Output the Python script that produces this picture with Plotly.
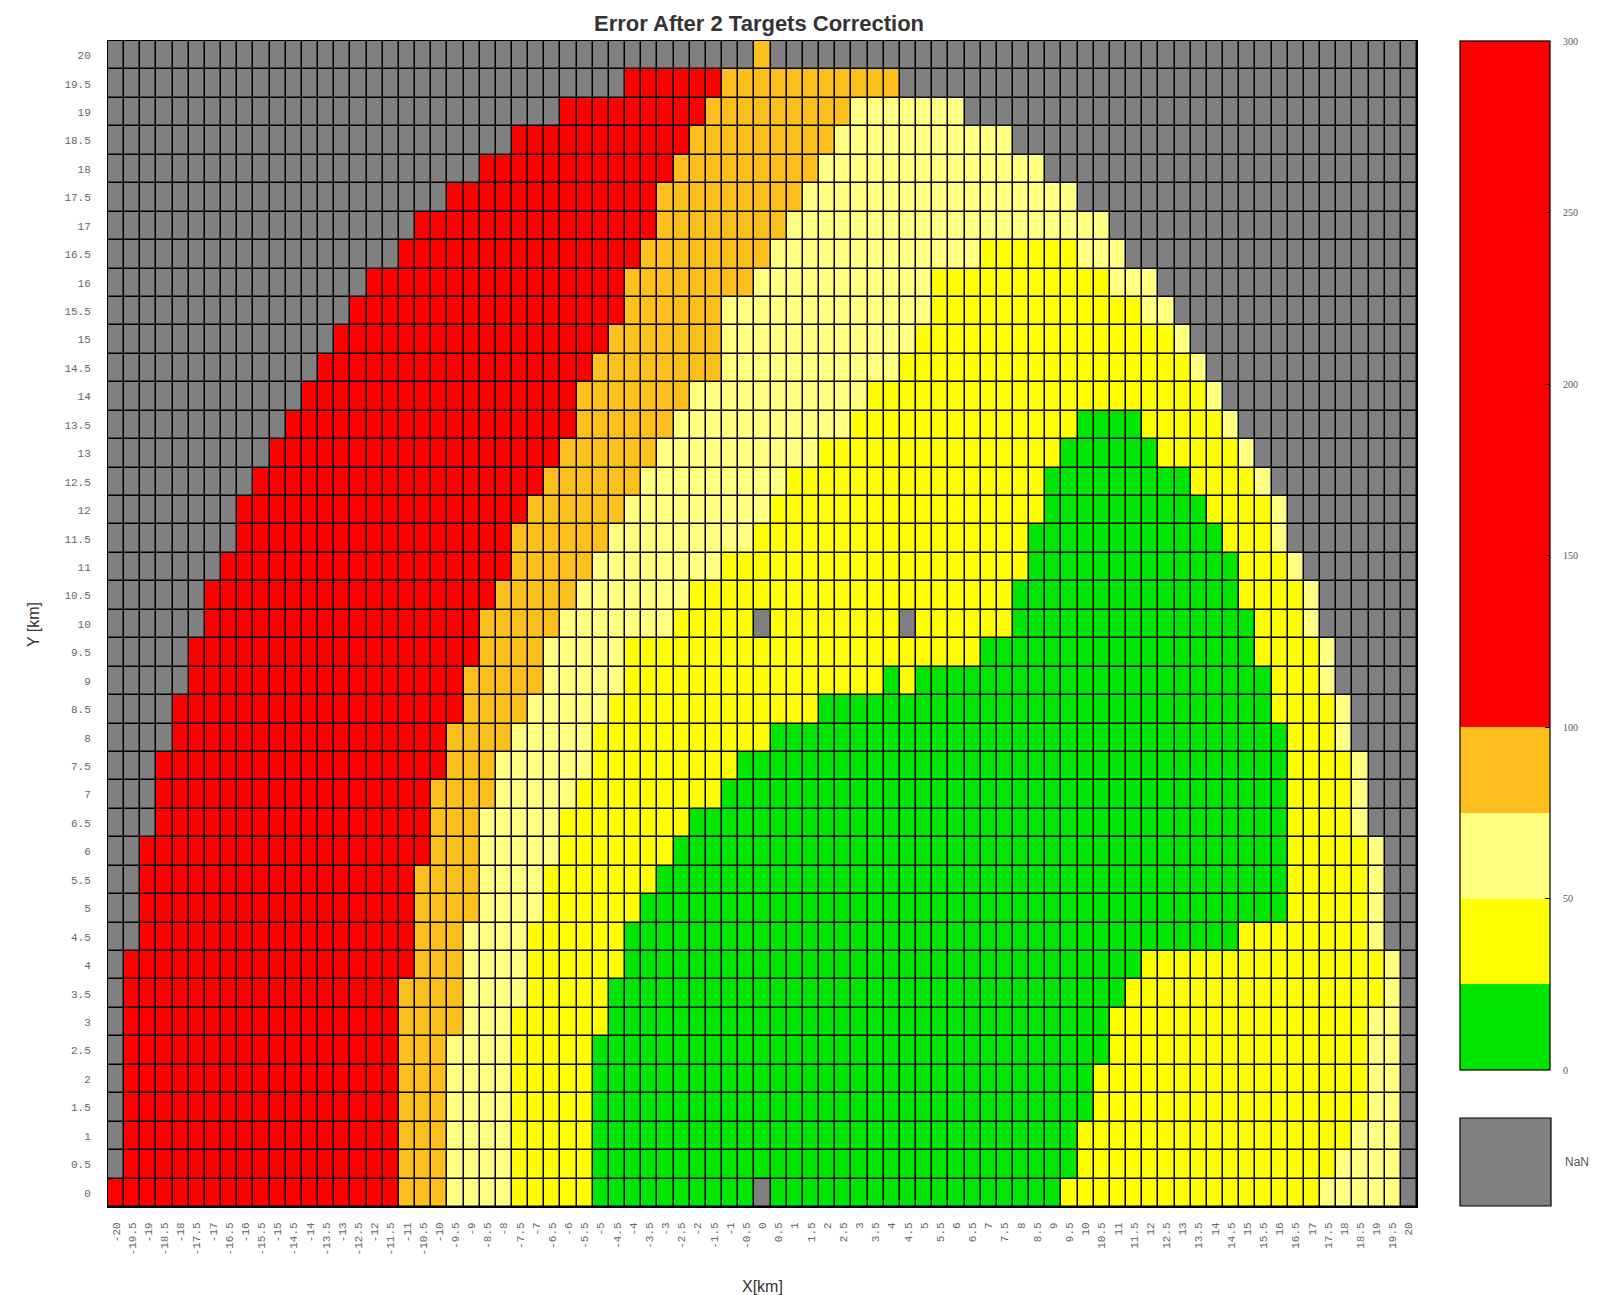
import plotly.graph_objects as go

# ---------------- data ----------------
x_vals = [-20 + 0.5 * i for i in range(81)]
y_vals = [0.5 * j for j in range(41)]
x_labels = [("%g" % v) for v in x_vals]
y_labels = [("%g" % v) for v in y_vals]

# representative error value for each class (NaN = no coverage)
class_values = {"G": 12.5, "Y": 37.5, "L": 62.5, "O": 87.5, "R": 200.0, "N": None}

# each row (y in km) as run-lengths of classes along x = -20 ... 20
rows = {
    20.0: "N40 O1 N40",
    19.5: "N32 R6 O11 N32",
    19.0: "N28 R9 O9 L7 N28",
    18.5: "N25 R11 O9 L11 N25",
    18.0: "N23 R12 O9 L14 N23",
    17.5: "N21 R13 O9 L17 N21",
    17.0: "N19 R15 O8 L20 N19",
    16.5: "N18 R15 O8 L13 Y6 L3 N18",
    16.0: "N16 R16 O8 L11 Y11 L3 N16",
    15.5: "N15 R17 O6 L13 Y13 L2 N15",
    15.0: "N14 R17 O7 L12 Y16 L1 N14",
    14.5: "N13 R17 O8 L11 Y18 L1 N13",
    14.0: "N12 R17 O7 L11 Y21 L1 N12",
    13.5: "N11 R18 O6 L11 Y14 G4 Y5 L1 N11",
    13.0: "N10 R18 O6 L10 Y15 G6 Y5 L1 N10",
    12.5: "N9 R18 O6 L9 Y16 G9 Y4 L1 N9",
    12.0: "N8 R18 O6 L9 Y17 G10 Y4 L1 N8",
    11.5: "N8 R17 O6 L9 Y17 G12 Y3 L1 N8",
    11.0: "N7 R18 O5 L8 Y19 G13 Y3 L1 N7",
    10.5: "N6 R18 O5 L7 Y20 G14 Y4 L1 N6",
    10.0: "N6 R17 O5 L7 Y5 N1 Y8 N1 Y6 G15 Y3 L1 N6",
    9.5: "N5 R18 O4 L5 Y22 G17 Y4 L1 N5",
    9.0: "N5 R17 O5 L5 Y16 G1 Y1 G22 Y3 L1 N5",
    8.5: "N4 R18 O4 L5 Y13 G28 Y4 L1 N4",
    8.0: "N4 R17 O4 L5 Y11 G32 Y3 L1 N4",
    7.5: "N3 R18 O3 L6 Y9 G34 Y4 L1 N3",
    7.0: "N3 R17 O4 L5 Y9 G35 Y4 L1 N3",
    6.5: "N3 R17 O3 L5 Y8 G37 Y4 L1 N3",
    6.0: "N2 R18 O3 L5 Y7 G38 Y5 L1 N2",
    5.5: "N2 R17 O4 L4 Y7 G39 Y5 L1 N2",
    5.0: "N2 R17 O4 L4 Y6 G40 Y5 L1 N2",
    4.5: "N2 R17 O3 L4 Y6 G38 Y8 L1 N2",
    4.0: "N1 R18 O3 L4 Y6 G32 Y15 L1 N1",
    3.5: "N1 R17 O4 L4 Y5 G32 Y16 L1 N1",
    3.0: "N1 R17 O4 L3 Y6 G31 Y16 L2 N1",
    2.5: "N1 R17 O3 L4 Y5 G32 Y16 L2 N1",
    2.0: "N1 R17 O3 L4 Y5 G31 Y17 L2 N1",
    1.5: "N1 R17 O3 L4 Y5 G31 Y17 L2 N1",
    1.0: "N1 R17 O3 L4 Y5 G30 Y17 L3 N1",
    0.5: "N1 R17 O3 L4 Y5 G30 Y16 L4 N1",
    0.0: "R18 O3 L4 Y5 G10 N1 G18 Y16 L5 N1",
}

cb_ticks = [0, 50, 100, 150, 200, 250, 300]

# ---------------- build matrices ----------------
def expand(spec):
    out = []
    for tok in spec.split():
        out += [tok[0]] * int(tok[1:])
    assert len(out) == 81, (spec, len(out))
    return out

z = []
z_nan = []
for y in y_vals:
    cls = expand(rows[y])
    z.append([class_values[c] for c in cls])
    z_nan.append([1 if c == "N" else None for c in cls])

GREEN, YEL, LYEL, ORNG, RED, GRAY = "#00e600", "#ffff00", "#ffff80", "#fdbf1e", "#ff0000", "#808080"
zmax = 300.0
cscale = [
    [0, GREEN], [25 / zmax, GREEN],
    [25 / zmax, YEL], [50 / zmax, YEL],
    [50 / zmax, LYEL], [75 / zmax, LYEL],
    [75 / zmax, ORNG], [100 / zmax, ORNG],
    [100 / zmax, RED], [1, RED],
]

# ---------------- geometry (page px) ----------------
W, H = 1598, 1295
OFF = 8                      # default body margin of the html page
L, R, T, B = 108, 1417, 41, 1207
pw, ph = R - L, B - T

def px_x(px):
    return (px - L) / pw

def px_y(py):
    return (B - py) / ph

gap = 1.5
fig = go.Figure()
fig.add_trace(go.Heatmap(
    x=x_vals, y=y_vals, z=z, zmin=0, zmax=zmax, colorscale=cscale,
    xgap=gap, ygap=gap, hoverongaps=False,
    colorbar=dict(
        thickness=90, thicknessmode="pixels",
        len=(1070 - 41) / ph, lenmode="fraction",
        x=px_x(1460), xanchor="left", xpad=0,
        y=1, yanchor="top", ypad=0,
        outlinecolor="black", outlinewidth=1.2,
        tickvals=cb_ticks, ticktext=["\u2002\u2002" + str(t) for t in cb_ticks],
        ticks="inside", ticklen=5, tickcolor="black",
        tickfont=dict(family="Liberation Serif", size=10, color="#555"),
    ),
))
fig.add_trace(go.Heatmap(
    x=x_vals, y=y_vals, z=z_nan, zmin=0, zmax=1,
    colorscale=[[0, GRAY], [1, GRAY]], showscale=False,
    xgap=gap, ygap=gap, hoverongaps=False,
))

# NaN legend box
fig.add_shape(type="rect", xref="paper", yref="paper",
              x0=px_x(1460), x1=px_x(1551), y0=px_y(1206), y1=px_y(1118),
              fillcolor=GRAY, line=dict(color="black", width=1.2))
fig.add_annotation(text="NaN", xref="paper", yref="paper",
                   x=px_x(1563), y=px_y(1162), xanchor="left", yanchor="middle",
                   showarrow=False, font=dict(family="Liberation Sans", size=12, color="#555"))

fig.add_annotation(text="Y [km]", xref="paper", yref="paper",
                   x=px_x(33), y=px_y(625), textangle=-90, showarrow=False,
                   xanchor="center", yanchor="middle",
                   font=dict(family="Liberation Sans Narrow, Liberation Sans", size=16, color="#333"))
fig.add_annotation(text="X[km]", xref="paper", yref="paper",
                   x=px_x(762), y=px_y(1286), showarrow=False,
                   xanchor="center", yanchor="middle",
                   font=dict(family="Liberation Sans Narrow, Liberation Sans", size=16, color="#333"))

fig.update_layout(
    width=W - OFF, height=H - OFF,
    margin=dict(l=L - OFF, r=W - R, t=T - OFF, b=H - B, pad=0),
    paper_bgcolor="white", plot_bgcolor="black",
    title=dict(text="<b>Error After 2 Targets Correction</b>", xref="paper", x=px_x(759),
               xanchor="center", yref="container", y=1 - (23 - OFF) / (H - OFF), yanchor="middle",
               font=dict(family="Liberation Sans", size=22, color="#333")),
    xaxis=dict(range=[-20.25, 20.25], tickvals=x_vals, ticktext=x_labels, tickangle=-90,
               showgrid=False, zeroline=False, showline=True, linecolor="black", linewidth=1,
               mirror=True, ticks="", ticklabelstandoff=10,
               tickfont=dict(family="Liberation Mono", size=11, color="#666")),
    yaxis=dict(range=[-0.25, 20.25], tickvals=y_vals, ticktext=y_labels,
               showgrid=False, zeroline=False, showline=True, linecolor="black", linewidth=1,
               mirror=True, ticks="", ticklabelstandoff=14,
               tickfont=dict(family="Liberation Mono", size=11, color="#666")),
)

fig.write_html("out.html")
